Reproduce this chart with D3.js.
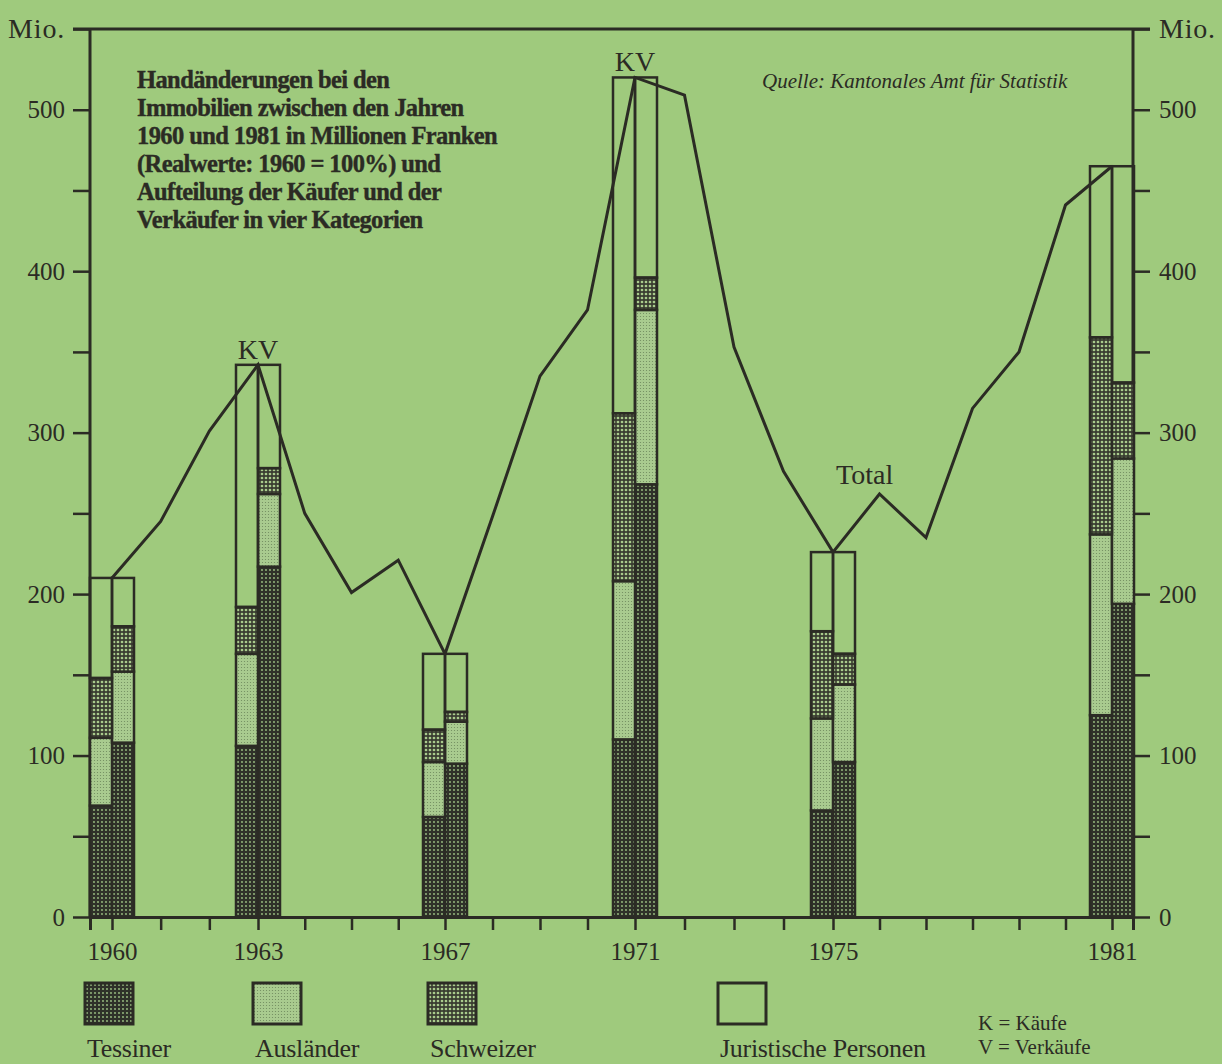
<!DOCTYPE html>
<html>
<head>
<meta charset="utf-8">
<script src="https://cdn.jsdelivr.net/npm/d3@7"></script>
<style>
  body { margin: 0; background: #9fca7d; }
  svg { display: block; font-family: "Liberation Serif", "Times New Roman", serif; }
</style>
</head>
<body>
<div id="chart"></div>
<script>
// Jahre mit Balken (K = Käufe, V = Verkäufe)
const barYears = [1960, 1963, 1967, 1971, 1975, 1981];
const categories = ["Tessiner", "Ausländer", "Schweizer", "Juristische Personen"];

// Käufe, Mio. Franken je Kategorie
const kTessiner  = [69, 106, 62, 110, 66, 125];
const kAuslaender = [42, 57, 34, 98, 57, 112];
const kSchweizer = [37, 29, 20, 104, 54, 122];
const kJuristisch = [62, 150, 47, 208, 49, 106];

// Verkäufe, Mio. Franken je Kategorie
const vTessiner  = [108, 217, 95, 268, 96, 194];
const vAuslaender = [44, 45, 26, 108, 48, 90];
const vSchweizer = [28, 16, 6, 20, 19, 47];
const vJuristisch = [30, 64, 36, 124, 63, 134];

// Total pro Jahr
const lineYears = d3.range(1960, 1982);
const totals = [210, 245, 301, 342, 250, 201, 221, 163, 248, 335, 376,
                520, 509, 353, 276, 226, 262, 235, 315, 350, 441, 465];

const yTicks = d3.range(0, 551, 50);
const yLabels = [0, 100, 200, 300, 400, 500];

const width = 1222, height = 1064;
const ink = "#2b2b24";

const svg = d3.select("#chart").append("svg")
  .attr("width", width)
  .attr("height", height);

// Muster für die Kategorien
const defs = svg.append("defs");
function dotPattern(id, size, bg, dot, r) {
  const p = defs.append("pattern")
    .attr("id", id)
    .attr("patternUnits", "userSpaceOnUse")
    .attr("width", size)
    .attr("height", size);
  p.append("rect").attr("width", size).attr("height", size).attr("fill", bg);
  p.append("circle").attr("cx", size / 2).attr("cy", size / 2).attr("r", r).attr("fill", dot);
}
dotPattern("p0", 4, "#2f3129", "#9fc585", 0.9);
dotPattern("p1", 3, "#a9cb8f", "#6f8a5c", 0.6);
dotPattern("p2", 4, "#3a3d31", "#a9cb8c", 1.35);
const fills = ["url(#p0)", "url(#p1)", "url(#p2)", "none"];

// Skalen (Jahresabstände von Hand gezeichnet, daher stückweise)
const x = d3.scaleLinear()
  .domain([1959.54, 1960, 1963, 1967, 1971, 1975, 1981, 1981.44])
  .range([90, 112, 258, 445, 635, 833, 1112, 1133]);
const y = d3.scaleLinear().domain([0, 550]).range([917, 29]);
const barW = 22;

const tickFmt = d => d === 550 ? "Mio." : (yLabels.includes(d) ? d : "");

// Achsen
const leftAxis = svg.append("g")
  .attr("transform", `translate(${x.range()[0]},0)`)
  .call(d3.axisLeft(y).tickValues(yTicks).tickSize(17).tickPadding(8).tickFormat(tickFmt));

const rightAxis = svg.append("g")
  .attr("transform", `translate(${x.range()[x.range().length - 1]},0)`)
  .call(d3.axisRight(y).tickValues(yTicks).tickSize(17).tickPadding(9).tickFormat(tickFmt));

const bottomAxis = svg.append("g")
  .attr("transform", `translate(0,${y(0)})`)
  .call(d3.axisBottom(x).tickValues(lineYears).tickSize(13).tickPadding(12)
    .tickFormat(d => barYears.includes(d) ? d : ""));

[leftAxis, rightAxis, bottomAxis].forEach(g => {
  g.select(".domain").attr("stroke", ink).attr("stroke-width", 3);
  g.selectAll(".tick line").attr("stroke", ink).attr("stroke-width", 2.5);
  g.selectAll(".tick text")
    .attr("fill", ink)
    .style("font-family", "'Liberation Serif', serif")
    .style("font-size", "25px");
});
[leftAxis, rightAxis].forEach(g => {
  g.select(".domain").attr("d", `M0,${y(0)}V${y(550)}`);
  g.selectAll(".tick text").filter(d => d === 550)
    .style("font-size", "28px")
    .style("letter-spacing", "0.8px");
});

// obere Linie
svg.append("line")
  .attr("x1", x.range()[0] - 17)
  .attr("x2", x.range()[x.range().length - 1] + 17)
  .attr("y1", y(550)).attr("y2", y(550))
  .attr("stroke", ink).attr("stroke-width", 3);

// Balken
const keys = ["t", "a", "s", "j"];
const kRows = barYears.map((yr, i) => ({ year: yr, side: "K",
  t: kTessiner[i], a: kAuslaender[i], s: kSchweizer[i], j: kJuristisch[i] }));
const vRows = barYears.map((yr, i) => ({ year: yr, side: "V",
  t: vTessiner[i], a: vAuslaender[i], s: vSchweizer[i], j: vJuristisch[i] }));
const rows = kRows.concat(vRows);
const stacked = d3.stack().keys(keys)(rows);

const bars = svg.append("g").attr("class", "bars");
stacked.forEach((layer, li) => {
  bars.selectAll(null)
    .data(layer)
    .enter().append("rect")
    .attr("x", d => d.data.side === "K" ? x(d.data.year) - barW : x(d.data.year))
    .attr("width", barW)
    .attr("y", d => y(d[1]))
    .attr("height", d => y(d[0]) - y(d[1]))
    .attr("fill", fills[li])
    .attr("stroke", ink)
    .attr("stroke-width", 2.5);
});

// Total-Linie
svg.append("path")
  .datum(lineYears.map((yr, i) => [yr, totals[i]]))
  .attr("fill", "none")
  .attr("stroke", ink)
  .attr("stroke-width", 3)
  .attr("stroke-linejoin", "miter")
  .attr("d", d3.line().x(d => x(d[0])).y(d => y(d[1])));

// Beschriftungen KV und Total
[1963, 1971].forEach(yr => {
  svg.append("text")
    .attr("x", x(yr))
    .attr("y", y(totals[lineYears.indexOf(yr)]) - 6)
    .attr("text-anchor", "middle")
    .attr("fill", ink)
    .style("font-size", "28px")
    .text("KV");
});
svg.append("text")
  .attr("x", x(1975.68))
  .attr("y", y(268))
  .attr("text-anchor", "middle")
  .attr("fill", ink)
  .style("font-size", "28px")
  .text("Total");

// Titel
const titleLines = ["Handänderungen bei den", "Immobilien zwischen den Jahren",
  "1960 und 1981 in Millionen Franken", "(Realwerte: 1960 = 100%) und",
  "Aufteilung der Käufer und der", "Verkäufer in vier Kategorien"];
svg.append("g").selectAll("text")
  .data(titleLines)
  .enter().append("text")
  .attr("x", 137)
  .attr("y", (d, i) => 88 + i * 28)
  .attr("fill", ink)
  .style("font-size", "24.5px")
  .style("font-weight", "bold")
  .style("letter-spacing", "-0.6px")
  .style("stroke", ink)
  .style("stroke-width", "0.4px")
  .text(d => d);

svg.append("text")
  .attr("x", 762)
  .attr("y", 88)
  .attr("fill", ink)
  .style("font-size", "21px")
  .style("font-style", "italic")
  .text("Quelle: Kantonales Amt für Statistik");

// Legende
const legendX = [85, 253, 428, 718];
const legend = svg.append("g").selectAll("g")
  .data(categories)
  .enter().append("g")
  .attr("transform", (d, i) => `translate(${legendX[i]},983)`);
legend.append("rect")
  .attr("width", 48).attr("height", 41)
  .attr("fill", (d, i) => fills[i])
  .attr("stroke", ink).attr("stroke-width", 3);
legend.append("text")
  .attr("x", 2).attr("y", 74)
  .attr("fill", ink)
  .style("font-size", "26px")
  .style("letter-spacing", "-0.3px")
  .text(d => d);

svg.append("text").attr("x", 978).attr("y", 1030).attr("fill", ink)
  .style("font-size", "21px").text("K = Käufe");
svg.append("text").attr("x", 978).attr("y", 1054).attr("fill", ink)
  .style("font-size", "21px").text("V = Verkäufe");
</script>
</body>
</html>
